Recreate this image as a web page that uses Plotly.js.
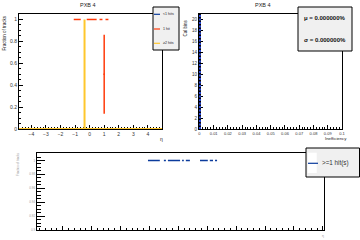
<!DOCTYPE html>
<html>
<head>
<meta charset="utf-8">
<script src="https://cdn.plot.ly/plotly-3.0.1.min.js"></script>
<style>
  html, body { margin: 0; padding: 0; background: #fff; }
  #plot { width: 360px; height: 240px; }
</style>
</head>
<body>
<div id="plot"></div>
<script>
// ---- Fraction of tracks vs eta, split by number of PXB 4 hits ----
const zeroHitEta = [0.075];
const zeroHitFrac = [0];
const zeroHitEtaErr = [4.925];
const zeroHitFracErr = [0];

const oneHitEta = [-0.85, 0.14, 0.78, 1.19, 1.0];
const oneHitFrac = [1, 1, 1, 1, 0.5];
const oneHitEtaErr = [0.24, 0.34, 0.10, 0.10, 0.05];
const oneHitFracErr = [0, 0, 0, 0, 0.36];

const twoHitEta = [-2.6, 2.3, -0.35];
const twoHitFrac = [0, 0, 0.5];
const twoHitEtaErr = [2.25, 2.7, 0];
const twoHitFracErr = [0, 0, 0.5];

// ---- Inefficiency distribution ----
const ineffBins = [0];
const ineffCounts = [21];
const ineffMean = '0.000000%';
const ineffSigma = '0.000000%';

// ---- Fraction of tracks with >=1 hit ----
const trendX = [4.155, 4.535, 4.85, 5.16, 5.33, 5.885, 6.145, 6.305];
const trendXErr = [0.205, 0.035, 0.21, 0.03, 0.07, 0.135, 0.055, 0.035];
const trendFrac = [1, 1, 1, 1, 1, 1, 1, 1];

const legendTop = ['<1 hits', '1 hit', '\u22652 hits'];
const legendBottom = '>=1 hit(s)';
const panelTitle = 'PXB 4';

const BLUE = '#0b3b9c';
const RED = '#ff3a0a';
const YELLOW = '#ffc72c';
const FONT = 'Liberation Sans, Arial, sans-serif';

const W = 360, H = 240;
const fx = p => p / W;
const fy = p => 1 - p / H;

// points drawn only through their error bars (no visible marker)
function pointTrace(x, y, ex, ey, color, xa, ya, thick) {
  return {
    type: 'scatter', mode: 'markers', x: x, y: y,
    xaxis: xa, yaxis: ya, cliponaxis: false,
    marker: { size: 2, color: 'rgba(0,0,0,0)', line: { width: 0 } },
    error_x: { type: 'data', array: ex, visible: true, width: 0, thickness: thick, color: color },
    error_y: { type: 'data', array: ey, visible: true, width: 0, thickness: thick, color: color },
    hoverinfo: 'skip', showlegend: false
  };
}

// histogram bins drawn as vertical strokes from 0 up to the bin content
const ineffTraces = [];
ineffBins.forEach((b, i) => {
  ineffTraces.push({ type: 'scatter', mode: 'lines', x: [b, b], y: [0, ineffCounts[i]],
    xaxis: 'x2', yaxis: 'y2', line: { color: '#000', width: 3 }, hoverinfo: 'skip', showlegend: false });
  ineffTraces.push({ type: 'scatter', mode: 'lines', x: [b, b], y: [0, ineffCounts[i]],
    xaxis: 'x2', yaxis: 'y2', line: { color: '#2a48e0', width: 3, dash: '2px,1.5px' }, hoverinfo: 'skip', showlegend: false });
});

const traces = [
  pointTrace(zeroHitEta, zeroHitFrac, zeroHitEtaErr, zeroHitFracErr, BLUE, 'x', 'y', 1.5),
  pointTrace(twoHitEta, twoHitFrac, twoHitEtaErr, twoHitFracErr, YELLOW, 'x', 'y', 2),
  pointTrace(oneHitEta, oneHitFrac, oneHitEtaErr, oneHitFracErr, RED, 'x', 'y', 1.5)
].concat(ineffTraces, [
  pointTrace(trendX, trendFrac, trendXErr, trendFrac.map(() => 0), BLUE, 'x3', 'y3', 1.5)
]);

function axis(domain, range, dtick, minorDtick, extra) {
  return Object.assign({
    domain: domain, range: range, dtick: dtick, tick0: 0,
    showline: true, linecolor: '#000', linewidth: 1, mirror: true,
    ticks: 'inside', ticklen: 4, tickwidth: 1, tickcolor: '#000',
    minor: { ticks: 'inside', ticklen: 2, tickwidth: 1, tickcolor: '#000', dtick: minorDtick, showgrid: false },
    showgrid: false, zeroline: false, fixedrange: true, layer: 'below traces',
    tickfont: { family: FONT, size: 5, color: '#333' }
  }, extra || {});
}

const annotations = [];
const shapes = [];
function text(t, x, y, size, opts) {
  annotations.push(Object.assign({
    text: t, x: fx(x), y: fy(y), xref: 'paper', yref: 'paper',
    showarrow: false, xanchor: 'center', yanchor: 'middle',
    font: { family: FONT, size: size, color: '#222' }
  }, opts || {}));
}
function box(x0, y0, x1, y1, fill, lw) {
  shapes.push({ type: 'rect', xref: 'paper', yref: 'paper',
    x0: fx(x0), x1: fx(x1), y0: fy(y1), y1: fy(y0),
    fillcolor: fill, line: { color: '#000', width: lw } });
}
function seg(x0, y0, x1, y1, color, w) {
  shapes.push({ type: 'line', xref: 'paper', yref: 'paper',
    x0: fx(x0), x1: fx(x1), y0: fy(y0), y1: fy(y1), line: { color: color, width: w } });
}

// panel titles and axis titles
text(panelTitle, 88, 5, 5.5);
text(panelTitle, 263, 5, 5.5);
text('Fraction of tracks', 4.5, 33, 4.5, { textangle: -90 });
text('\u03b7', 161, 139, 5);
text('Cal bins', 184.5, 28, 4.5, { textangle: -90 });
text('Inefficiency', 336, 138.5, 4.3);
text('Fraction of tracks', 18, 164, 3, { textangle: -90, font: { family: FONT, size: 3, color: '#999' } });
text('\u03b7', 323, 236, 3.5, { font: { family: FONT, size: 3.5, color: '#999' } });

// hit-count legend
box(153, 7, 179, 50, '#f0f0f0', 1);
const legColors = [BLUE, RED, YELLOW];
const legY = [14.3, 29, 43.3];
legendTop.forEach((t, i) => {
  seg(154, legY[i], 160, legY[i], legColors[i], 1.2);
  text(t, 161, legY[i], 3.6, { xanchor: 'left' });
});

// statistics box
box(298, 7, 352, 51, '#f0f0f0', 1);
text('\u03bc = ' + ineffMean, 325, 18, 6, { font: { family: FONT, size: 6, color: '#111', weight: 'bold' } });
text('\u03c3 = ' + ineffSigma, 325, 40, 6, { font: { family: FONT, size: 6, color: '#111', weight: 'bold' } });

// >=1 hit legend
box(306, 148, 359.5, 177, '#f0f0f0', 1);
shapes.push({ type: 'rect', xref: 'paper', yref: 'paper', x0: fx(307.7), x1: fx(316.7),
  y0: fy(173), y1: fy(152.7), fillcolor: '#fff', line: { width: 0 } });
seg(308, 163.3, 318, 163.3, BLUE, 1.2);
text(legendBottom, 320, 163.3, 6.3, { xanchor: 'left', font: { family: FONT, size: 6.3, color: '#333' } });

const layout = {
  width: W, height: H,
  margin: { l: 0, r: 0, t: 0, b: 0 },
  paper_bgcolor: '#fff', plot_bgcolor: '#fff',
  showlegend: false,
  xaxis: axis([fx(19), fx(162)], [-4.85, 4.97], 1, 0.2, { anchor: 'y' }),
  yaxis: axis([fy(129), fy(14)], [0, 1.05], 0.2, 0.05, { anchor: 'x' }),
  xaxis2: axis([fx(199), fx(342)], [-0.0003, 0.1], 0.01, 0.002, { anchor: 'y2', tickfont: { family: FONT, size: 4, color: '#333' } }),
  yaxis2: axis([fy(129), fy(14)], [0, 21], 2, 1, { anchor: 'x2', tickfont: { family: FONT, size: 4.5, color: '#333' } }),
  xaxis3: axis([fx(36.7), fx(324)], [0.1, 10.04], 1, 0.2, { anchor: 'y3', showticklabels: false }),
  yaxis3: axis([fy(230), fy(153)], [0.9, 1.0108], 0.02, 0.005, { anchor: 'x3', ticklen: 8,
    minor: { ticks: 'inside', ticklen: 4, tickwidth: 1, tickcolor: '#000', dtick: 0.005, showgrid: false },
    tickfont: { family: FONT, size: 3, color: '#999' } }),
  annotations: annotations,
  shapes: shapes
};

Plotly.newPlot('plot', traces, layout, { staticPlot: true, displayModeBar: false });
</script>
</body>
</html>
